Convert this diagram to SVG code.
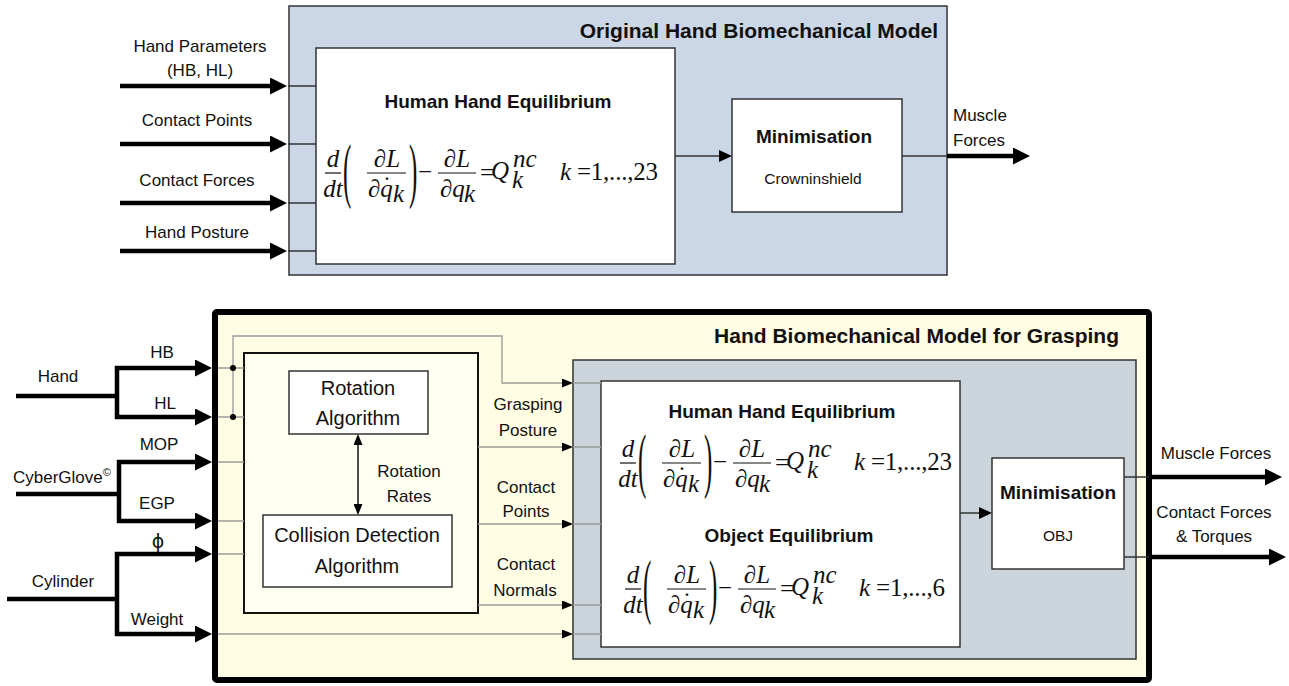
<svg xmlns="http://www.w3.org/2000/svg" xmlns:xlink="http://www.w3.org/1999/xlink" width="1289" height="686" viewBox="0 0 1289 686">
<style>
text{font-family:"Liberation Sans",Arial,sans-serif;fill:#111}
.lbl{font-size:17px}
.ttl{font-size:21px;font-weight:bold}
.hd{font-size:19px;font-weight:bold}
.alg{font-size:20px}
.sm{font-size:15.5px}
.mi{font-family:"Liberation Serif","Times New Roman",serif;font-style:italic;font-size:25px}
.mr{font-family:"Liberation Serif","Times New Roman",serif;font-size:25px}
.bar{stroke:#111;stroke-width:1.2}
.box{stroke:#333;stroke-width:1.5}
.thick{fill:none;stroke:#000;stroke-width:4.5}
.thin{fill:none;stroke:#333;stroke-width:1.5}
.gray{fill:none;stroke:#9a9a9a;stroke-width:1.3}
</style>
<defs>
<marker id="ah" viewBox="0 0 17 17" markerWidth="17" markerHeight="17" refX="7" refY="8.5" markerUnits="userSpaceOnUse" orient="auto-start-reverse"><path d="M0,0 L17,8.5 L0,17 Z" fill="#000"/></marker>
<marker id="am" viewBox="0 0 13 12" markerWidth="13" markerHeight="12" refX="5" refY="6" markerUnits="userSpaceOnUse" orient="auto-start-reverse"><path d="M0,0 L13,6 L0,12 Z" fill="#000"/></marker>
<marker id="as" viewBox="0 0 11 9" markerWidth="11" markerHeight="9" refX="5" refY="4.5" markerUnits="userSpaceOnUse" orient="auto-start-reverse"><path d="M0,0 L11,4.5 L0,9 Z" fill="#000"/></marker>
<g id="lagr">
<text x="8" y="-6" text-anchor="middle" class="mi">d</text>
<text x="8" y="24" text-anchor="middle" class="mi">dt</text>
<line x1="0" y1="0" x2="16" y2="0" class="bar"/>
<text transform="translate(18,20.6) scale(1,2.87)" class="mr" font-size="26">(</text>
<text x="62" y="-6" text-anchor="middle" class="mi">∂L</text>
<line x1="42" y1="0" x2="81" y2="0" class="bar"/>
<text x="43" y="24" class="mi">∂q</text>
<text x="62" y="21" text-anchor="middle" class="mr">˙</text>
<text x="68" y="29" class="mi" font-size="17">k</text>
<text transform="translate(84,20.6) scale(1,2.87)" class="mr" font-size="26">)</text>
<text x="100" y="7" text-anchor="middle" class="mr">−</text>
<text x="132" y="-6" text-anchor="middle" class="mi">∂L</text>
<line x1="113" y1="0" x2="151" y2="0" class="bar"/>
<text x="115" y="24" class="mi">∂q</text>
<text x="139" y="29" class="mi" font-size="17">k</text>
<text x="162" y="8" text-anchor="middle" class="mr">=</text>
<text x="166" y="6" class="mi" font-size="28">Q</text>
<text x="188" y="-6" class="mi" font-size="18">nc</text>
<text x="187" y="15" class="mi" font-size="18">k</text>
</g>
</defs>

<!-- Top: Original Hand Biomechanical Model -->
<g id="original-model">
<rect x="289" y="6" width="658" height="269" fill="#cbd6e6" class="box"/>
<text x="938" y="38" text-anchor="end" class="ttl">Original Hand Biomechanical Model</text>
</g>
<g id="human-hand-eq-top">
<rect x="316" y="48" width="359" height="216" fill="#fff" class="box"/>
<text x="498" y="108" text-anchor="middle" class="hd">Human Hand Equilibrium</text>
<use xlink:href="#lagr" href="#lagr" transform="translate(325,173)"/>
<text x="560" y="180" class="mr" font-size="26" textLength="98" lengthAdjust="spacing"><tspan font-style="italic">k</tspan> =1,...,23</text>
</g>
<g id="minimisation-top">
<rect x="732" y="99" width="170" height="113" fill="#fff" class="box"/>
<text x="814" y="143" text-anchor="middle" class="hd">Minimisation</text>
<text x="813" y="184" text-anchor="middle" class="sm">Crowninshield</text>
</g>
<g id="top-labels">
<text x="200" y="52" text-anchor="middle" class="lbl">Hand Parameters</text>
<text x="200" y="76" text-anchor="middle" class="lbl">(HB, HL)</text>
<text x="197" y="126" text-anchor="middle" class="lbl">Contact Points</text>
<text x="197" y="186" text-anchor="middle" class="lbl">Contact Forces</text>
<text x="197" y="238" text-anchor="middle" class="lbl">Hand Posture</text>
<text x="953" y="121" class="lbl">Muscle</text>
<text x="953" y="146" class="lbl">Forces</text>
</g>

<!-- Bottom: Hand Biomechanical Model for Grasping -->
<g id="grasping-model">
<rect x="215" y="312" width="934" height="368" rx="2" fill="#fffde3" stroke="#000" stroke-width="6"/>
<text x="1119" y="343" text-anchor="end" class="ttl">Hand Biomechanical Model for Grasping</text>
</g>
<g id="equilibrium-group">
<rect x="573" y="360" width="563" height="299" fill="#cbd5db" class="box"/>
</g>
<g id="equilibria">
<rect x="601" y="381" width="359" height="266" fill="#fff" class="box"/>
<text x="782" y="418" text-anchor="middle" class="hd">Human Hand Equilibrium</text>
<use xlink:href="#lagr" href="#lagr" transform="translate(620,463)"/>
<text x="854" y="470" class="mr" font-size="26" textLength="98" lengthAdjust="spacing"><tspan font-style="italic">k</tspan> =1,...,23</text>
<text x="789" y="542" text-anchor="middle" class="hd">Object Equilibrium</text>
<use xlink:href="#lagr" href="#lagr" transform="translate(625,589)"/>
<text x="859" y="596" class="mr" font-size="26" textLength="86" lengthAdjust="spacing"><tspan font-style="italic">k</tspan> =1,...,6</text>
</g>
<g id="minimisation-bottom">
<rect x="992" y="458" width="132" height="111" fill="#fff" class="box"/>
<text x="1058" y="499" text-anchor="middle" class="hd">Minimisation</text>
<text x="1058" y="541" text-anchor="middle" class="sm">OBJ</text>
</g>
<g id="algorithms">
<rect x="244" y="353" width="234" height="260" fill="#fffff2" stroke="#111" stroke-width="2"/>
</g>
<g id="rotation-algorithm">
<rect x="289" y="371" width="139" height="63" fill="#fff" class="box"/>
<text x="358" y="395" text-anchor="middle" class="alg">Rotation</text>
<text x="358" y="425" text-anchor="middle" class="alg">Algorithm</text>
</g>
<g id="collision-detection">
<rect x="263" y="515" width="189" height="72" fill="#fff" class="box"/>
<text x="357" y="542" text-anchor="middle" class="alg">Collision Detection</text>
<text x="357" y="573" text-anchor="middle" class="alg">Algorithm</text>
</g>

<!-- Connectors -->
<g id="connectors">
<path class="thick" d="M120,86 H277" marker-end="url(#ah)"/>
<path class="thick" d="M120,144 H277" marker-end="url(#ah)"/>
<path class="thick" d="M120,203 H277" marker-end="url(#ah)"/>
<path class="thick" d="M120,251 H277" marker-end="url(#ah)"/>
<path class="thin" d="M288,86 H316 M288,144 H316 M288,203 H316 M288,251 H316"/>
<path class="thin" d="M675,156 H724" marker-end="url(#am)"/>
<path class="thin" d="M902,156 H947"/>
<path class="thick" d="M947,156 H1020" marker-end="url(#ah)"/>

<path class="thick" d="M16,396 H117"/>
<path class="thick" d="M202,368 H117 V417 H202" marker-start="url(#ah)" marker-end="url(#ah)"/>
<path class="thick" d="M16,494 H119"/>
<path class="thick" d="M202,462 H119 V521 H202" marker-start="url(#ah)" marker-end="url(#ah)"/>
<path class="thick" d="M7,599 H117"/>
<path class="thick" d="M202,554 H117 V634 H202" marker-start="url(#ah)" marker-end="url(#ah)"/>

<path class="gray" d="M218,368 H244 M218,417 H244 M218,462 H244 M218,521 H244 M218,554 H244"/>
<path class="gray" d="M233,417 V336 H502 V383 H567" marker-end="url(#as)"/>
<circle cx="233" cy="368" r="3" fill="#000"/>
<circle cx="233" cy="417" r="3" fill="#000"/>
<path class="gray" d="M218,634 H567" marker-end="url(#as)"/>
<path class="gray" d="M478,447 H567" marker-end="url(#as)"/>
<path class="gray" d="M478,524 H567" marker-end="url(#as)"/>
<path class="gray" d="M478,605 H567" marker-end="url(#as)"/>
<path class="gray" d="M573,383 H601 M573,447 H601 M573,524 H601 M573,605 H601 M573,634 H601"/>
<path d="M358,440 V509" fill="none" stroke="#111" stroke-width="1.5" marker-start="url(#as)" marker-end="url(#as)"/>

<path class="thin" d="M960,513 H984" marker-end="url(#am)"/>
<path class="thin" d="M1124,477 H1149 M1124,557 H1149"/>
<path class="thick" d="M1149,477 H1272" marker-end="url(#ah)"/>
<path class="thick" d="M1149,557 H1276" marker-end="url(#ah)"/>
</g>

<g id="bottom-labels">
<text x="58" y="382" text-anchor="middle" class="lbl">Hand</text>
<text x="162" y="358" text-anchor="middle" class="lbl">HB</text>
<text x="165" y="409" text-anchor="middle" class="lbl">HL</text>
<text x="159" y="450" text-anchor="middle" class="lbl">MOP</text>
<text x="13" y="483" class="lbl">CyberGlove<tspan font-size="11" dy="-7">©</tspan></text>
<text x="157" y="509" text-anchor="middle" class="lbl">EGP</text>
<text x="158" y="548" text-anchor="middle" style="font-family:'DejaVu Sans',sans-serif;font-size:19px">ϕ</text>
<text x="63" y="587" text-anchor="middle" class="lbl">Cylinder</text>
<text x="157" y="625" text-anchor="middle" class="lbl">Weight</text>
<text x="409" y="477" text-anchor="middle" class="lbl">Rotation</text>
<text x="409" y="502" text-anchor="middle" class="lbl">Rates</text>
<text x="528" y="410" text-anchor="middle" class="lbl">Grasping</text>
<text x="528" y="436" text-anchor="middle" class="lbl">Posture</text>
<text x="526" y="493" text-anchor="middle" class="lbl">Contact</text>
<text x="526" y="517" text-anchor="middle" class="lbl">Points</text>
<text x="526" y="570" text-anchor="middle" class="lbl">Contact</text>
<text x="525" y="596" text-anchor="middle" class="lbl">Normals</text>
<text x="1216" y="459" text-anchor="middle" class="lbl">Muscle Forces</text>
<text x="1214" y="518" text-anchor="middle" class="lbl">Contact Forces</text>
<text x="1214" y="542" text-anchor="middle" class="lbl">&amp; Torques</text>
</g>
</svg>
